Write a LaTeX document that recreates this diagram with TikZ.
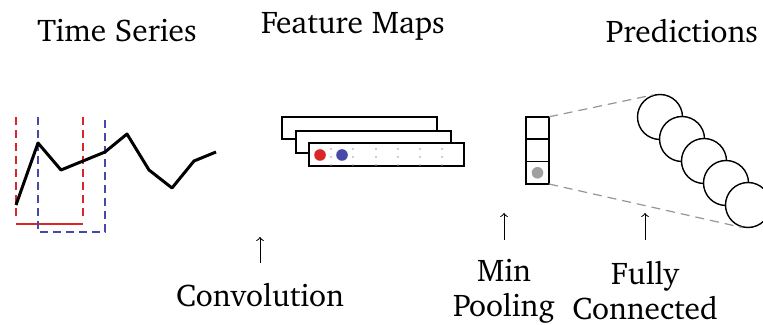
\documentclass[tikz,border=0pt]{standalone}
\usepackage[T1]{fontenc}
\usepackage{charter}
\usetikzlibrary{positioning}

\definecolor{winred}{RGB}{218,38,40}
\definecolor{winblue}{RGB}{72,72,168}
\definecolor{poolgray}{RGB}{160,160,160}
\definecolor{linkgray}{RGB}{150,150,150}

\tikzset{
  title/.style={font=\fontsize{15.7}{17.5}\selectfont, inner sep=0pt},
  label/.style={font=\fontsize{15.7}{17.5}\selectfont, inner sep=0pt, align=center},
  fmap/.style={draw, fill=white, line width=0.75pt},
  cell/.style={draw, line width=0.75pt, minimum width=11.5pt, minimum height=11.2pt, inner sep=0pt, outer sep=0pt},
  neuron/.style={draw, fill=white, circle, line width=0.7pt, minimum size=22.5pt, inner sep=0pt},
  window/.style={line width=0.6pt, dash pattern=on 4pt off 2.5pt},
  link/.style={linkgray, line width=0.6pt, dash pattern=on 4.5pt off 3pt},
  uparr/.style={->, line width=0.5pt}
}

\begin{document}
\begin{tikzpicture}[x=0.5pt,y=-0.5pt]
  \useasboundingbox (0,0) rectangle (763,325);

  % titles
  \node[title] (tts) at (117,31) {Time Series};
  \node[title] (tfm) at (353,26) {Feature Maps};
  \node[title] (tpr) at (682,31) {Predictions};

  % sliding windows
  \draw[winred,window] (16,117) -- (16,220);
  \draw[winred,window] (83,117) -- (83,220);
  \draw[winred,line width=0.6pt] (16,224) -- (83,224);
  \draw[winblue,window] (38,117) -- (38,232) -- (105,232) -- (105,117);

  % the series
  \draw[line width=1.5pt,line join=round] (16,205) -- (38,143) -- (61,170) -- (83,161) -- (105,152)
     -- (127,134) -- (149,170) -- (172,188) -- (194,161) -- (216,152);

  % feature maps
  \draw[fmap] (282,117) rectangle (437,139);
  \draw[fmap] (296,131) rectangle (451,153);
  \draw[fmap] (309,143) rectangle (464,166);
  \foreach \x in {331,353,376,398,420,442}
    \foreach \y in {149,157,165}
      \fill[poolgray] (\x,\y) circle (0.4pt);
  \fill[winred] (320,155) circle (2.9pt);
  \fill[winblue] (342,155) circle (2.9pt);

  % min pooling
  \node[cell] (pool1) at (537.5,128) {};
  \node[cell, below=0pt of pool1] (pool2) {};
  \node[cell, below=0pt of pool2] (pool3) {};
  \fill[poolgray] (pool3.center) circle (2.9pt);

  % output neurons
  \foreach \i/\x/\y in {1/660/117,2/682/139,3/704/161,4/726/183,5/748/205}
    \node[neuron] (out\i) at (\x,\y) {};

  \draw[link] (pool1.north east) -- (out1.108);
  \draw[link] (pool3.south east) -- (out5.257);

  % stage labels
  \node[label] (conv) at (260,295) {Convolution};
  \node[label] (minp) at (504,291) {Min\\Pooling};
  \node[label] (fully) at (645,291) {Fully\\Connected};

  \coordinate (convtip) at (260,237);
  \coordinate (minptip) at (504,213);
  \coordinate (fullytip) at (645,213);
  \draw[uparr] (260,263) -- (convtip);
  \draw[uparr] (504,240) -- (minptip);
  \draw[uparr] (645,240) -- (fullytip);
\end{tikzpicture}
\end{document}
